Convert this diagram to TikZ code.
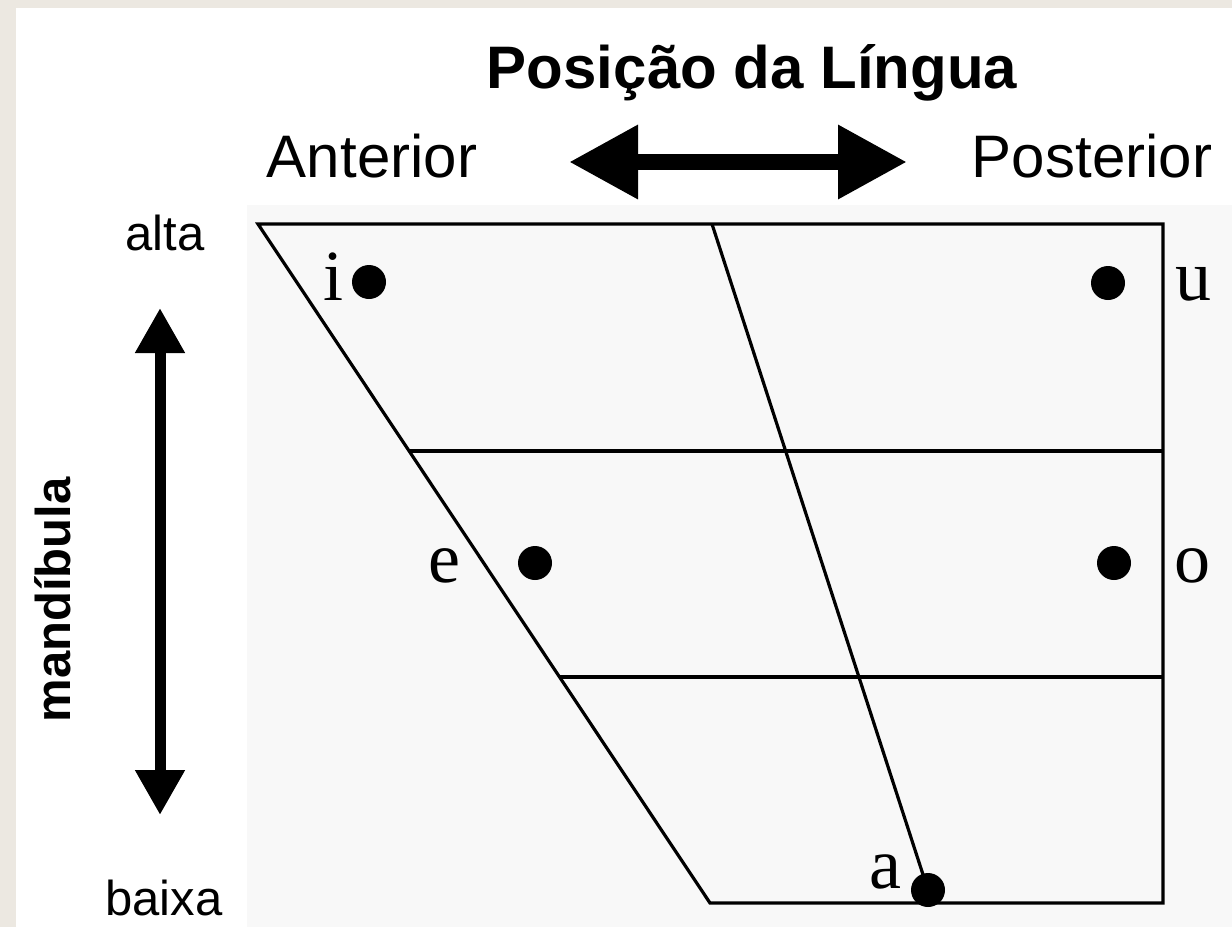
\documentclass[tikz,border=0pt]{standalone}
\usepackage{fontspec}
\setsansfont{Liberation Sans}
\newfontfamily\vowelfont{Liberation Serif}
\usetikzlibrary{arrows.meta}

\definecolor{paper}{HTML}{ECE8E1}
\definecolor{chartbg}{HTML}{F8F8F8}

\tikzset{
  vowel/.style={circle,fill=black,inner sep=0pt,minimum size=17pt},
  phone/.style={font=\vowelfont\fontsize{36}{40}\selectfont,inner sep=0pt,anchor=base},
  headtext/.style={font=\sffamily\bfseries\fontsize{30}{36}\selectfont,inner sep=0pt,anchor=base},
  sidetext/.style={font=\sffamily\fontsize{30}{36}\selectfont,inner sep=0pt,anchor=base},
  heighttext/.style={font=\sffamily\fontsize{24.5}{30}\selectfont,inner sep=0pt,anchor=base},
  jawtext/.style={font=\sffamily\bfseries\fontsize{24.5}{30}\selectfont,inner sep=0pt,anchor=base,rotate=90},
  chart/.style={line width=1.6pt,line join=miter},
  tonguearrow/.style={line width=8pt,{Triangle[length=34.5pt,width=35pt]}-{Triangle[length=34.5pt,width=35pt]}},
  jawarrow/.style={line width=5.5pt,{Triangle[length=22.5pt,width=23.5pt]}-{Triangle[length=22.5pt,width=23.5pt]}}
}

\begin{document}
\begin{tikzpicture}[x=0.5pt,y=-0.5pt]

  %%%%%%%%%%%Background%%%%%%%%%%%
  \fill[paper] (0,0) rectangle (1232,927);
  \fill[white] (16,8) rectangle (1232,927);
  \fill[chartbg] (247,205) rectangle (1232,927);
  \useasboundingbox (0,0) rectangle (1232,927);

  %%%%%%%%%%%Tongue position%%%%%%%%%%%
  \node[headtext] (title) at (752,88) {Posição da Língua};
  \node[sidetext] (ant) at (372,177) {Anterior};
  \node[sidetext] (post) at (1092,177) {Posterior};
  \coordinate (fronttip) at (569,162);
  \coordinate (backtip) at (907,162);
  \draw[tonguearrow] (fronttip) -- (backtip);

  %%%%%%%%%%%Jaw%%%%%%%%%%%
  \node[heighttext] (alta) at (165,250) {alta};
  \node[heighttext] (baixa) at (164,915) {baixa};
  \node[jawtext] (jaw) at (70,600) {mandíbula};
  \coordinate (uptip) at (160,308);
  \coordinate (downtip) at (160,815);
  \draw[jawarrow] (uptip) -- (downtip);

  %%%%%%%%%%%Vowel chart%%%%%%%%%%%
  \coordinate (tl) at (258,224);
  \coordinate (tm) at (712,224);
  \coordinate (tr) at (1163,224);
  \coordinate (br) at (1163,903);
  \coordinate (bl) at (710,903);
  \coordinate (midl) at (409,451);
  \coordinate (midr) at (1163,451);
  \coordinate (lowl) at (560,677);
  \coordinate (lowr) at (1163,677);
  \draw[chart] (tl) -- (tr) -- (br) -- (bl) -- cycle;
  \draw[chart] (midl) -- (midr);
  \draw[chart] (lowl) -- (lowr);

  %%%%%%%%%%%Vowels%%%%%%%%%%%
  \node[vowel] (i) at (369,282) {};
  \node[vowel] (u) at (1108,283) {};
  \node[vowel] (e) at (535,563) {};
  \node[vowel] (o) at (1114,563) {};
  \node[vowel] (a) at (928,890) {};
  \draw[chart] (tm) -- (a.center);
  \node[phone] (li) at (333,300) {i};
  \node[phone] (lu) at (1193,300) {u};
  \node[phone] (le) at (444,582) {e};
  \node[phone] (lo) at (1192,582) {o};
  \node[phone] (la) at (885,888) {a};
\end{tikzpicture}
\end{document}
